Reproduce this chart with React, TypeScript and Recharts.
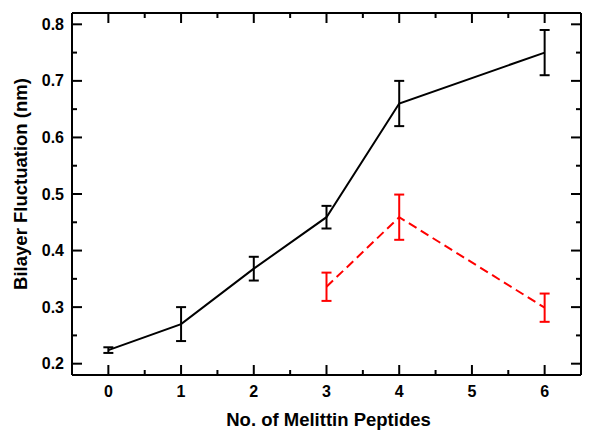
import React from 'react';
import { LineChart, Line, XAxis, YAxis, ErrorBar, Label } from 'recharts';

const blackX = [0, 1, 2, 3, 4, 6];
const blackY = [0.224, 0.27, 0.368, 0.459, 0.66, 0.75];
const blackErr = [0.005, 0.03, 0.021, 0.02, 0.04, 0.04];

const redX = [3, 4, 6];
const redY = [0.336, 0.459, 0.299];
const redErr = [0.025, 0.04, 0.025];

const xTicks = [0, 0.5, 1, 1.5, 2, 2.5, 3, 3.5, 4, 4.5, 5, 5.5, 6];
const yTicks = [0.2, 0.25, 0.3, 0.35, 0.4, 0.45, 0.5, 0.55, 0.6, 0.65, 0.7, 0.75, 0.8];

const blackData = blackX.map((x, i) => ({ x, y: blackY[i], err: blackErr[i] }));
const redData = redX.map((x, i) => ({ x, y: redY[i], err: redErr[i] }));

const FONT = '"Liberation Sans", Arial, Helvetica, sans-serif';
const MAJOR = 10;
const MINOR = 5;
const TICK_FS = 16;
const TITLE_FS = 18.5;

const isIntX = (v: number) => Math.abs(v - Math.round(v)) < 1e-6;
const isMajorY = (v: number) => Math.abs(v * 10 - Math.round(v * 10)) < 1e-6;

const BottomTick = (props: any) => {
  const { x, y, payload } = props;
  const major = isIntX(payload.value);
  return (
    <g>
      <line x1={x} y1={y} x2={x} y2={y - (major ? MAJOR : MINOR)} stroke="#000" strokeWidth={2} />
      {major && (
        <text x={x} y={y + 22} textAnchor="middle" fontFamily={FONT} fontWeight="bold" fontSize={TICK_FS} fill="#000">
          {String(payload.value)}
        </text>
      )}
    </g>
  );
};

const TopTick = (props: any) => {
  const { x, y, payload } = props;
  const major = isIntX(payload.value);
  return <line x1={x} y1={y} x2={x} y2={y + (major ? MAJOR : MINOR)} stroke="#000" strokeWidth={2} />;
};

const LeftTick = (props: any) => {
  const { x, y, payload } = props;
  const major = isMajorY(payload.value);
  return (
    <g>
      <line x1={x} y1={y} x2={x + (major ? MAJOR : MINOR)} y2={y} stroke="#000" strokeWidth={2} />
      {major && (
        <text x={x - 8} y={y + 5.5} textAnchor="end" fontFamily={FONT} fontWeight="bold" fontSize={TICK_FS} fill="#000">
          {payload.value.toFixed(1)}
        </text>
      )}
    </g>
  );
};

const RightTick = (props: any) => {
  const { x, y, payload } = props;
  const major = isMajorY(payload.value);
  return <line x1={x} y1={y} x2={x - (major ? MAJOR : MINOR)} y2={y} stroke="#000" strokeWidth={2} />;
};

const YTitle = (props: any) => {
  const vb = props.viewBox || { x: 0, y: 0, width: 0, height: 0 };
  const cx = 20;
  const cy = vb.y + vb.height / 2 - 10;
  return (
    <text
      x={cx}
      y={cy}
      transform={`rotate(-90, ${cx}, ${cy})`}
      textAnchor="middle"
      dominantBaseline="central"
      fontFamily={FONT}
      fontWeight="bold"
      fontSize={TITLE_FS}
      fill="#000"
    >
      Bilayer Fluctuation (nm)
    </text>
  );
};

const XTitle = (props: any) => {
  const vb = props.viewBox || { x: 0, y: 0, width: 0, height: 0 };
  const cx = vb.x + vb.width / 2 + 2;
  return (
    <text x={cx} y={426} textAnchor="middle" fontFamily={FONT} fontWeight="bold" fontSize={TITLE_FS} fill="#000">
      No. of Melittin Peptides
    </text>
  );
};

export default function App() {
  return (
    <div style={{ position: 'absolute', left: 0, top: 0, width: 590, height: 431, background: '#fff' }}>
      <LineChart width={590} height={431} margin={{ top: 12, right: 8, bottom: 0, left: 0 }}>
        <XAxis
          xAxisId={0}
          dataKey="x"
          type="number"
          domain={[-0.5, 6.5]}
          ticks={xTicks}
          interval={0}
          height={56}
          tickSize={0}
          tickMargin={0}
          tickLine={false}
          tick={<BottomTick />}
          axisLine={{ stroke: '#000', strokeWidth: 2 }}
        >
          <Label content={<XTitle />} />
        </XAxis>
        <XAxis
          xAxisId="top"
          orientation="top"
          dataKey="x"
          type="number"
          domain={[-0.5, 6.5]}
          ticks={xTicks}
          interval={0}
          height={1}
          tickSize={0}
          tickMargin={0}
          tickLine={false}
          tick={<TopTick />}
          axisLine={{ stroke: '#000', strokeWidth: 2 }}
        />
        <YAxis
          yAxisId={0}
          type="number"
          domain={[0.18, 0.82]}
          ticks={yTicks}
          interval={0}
          width={72}
          tickSize={0}
          tickMargin={0}
          tickLine={false}
          tick={<LeftTick />}
          axisLine={{ stroke: '#000', strokeWidth: 2 }}
        >
          <Label content={<YTitle />} />
        </YAxis>
        <YAxis
          yAxisId="right"
          orientation="right"
          type="number"
          domain={[0.18, 0.82]}
          ticks={yTicks}
          interval={0}
          width={1}
          tickSize={0}
          tickMargin={0}
          tickLine={false}
          tick={<RightTick />}
          axisLine={{ stroke: '#000', strokeWidth: 2 }}
        />
        <Line
          data={blackData}
          xAxisId="top"
          yAxisId="right"
          dataKey="y"
          type="linear"
          stroke="none"
          dot={false}
          activeDot={false}
          legendType="none"
          isAnimationActive={false}
        />
        <Line
          data={blackData}
          dataKey="y"
          type="linear"
          stroke="#000"
          strokeWidth={2}
          dot={false}
          activeDot={false}
          isAnimationActive={false}
        >
          <ErrorBar dataKey="err" direction="y" width={5} stroke="#000" strokeWidth={2} isAnimationActive={false} />
        </Line>
        <Line
          data={redData}
          dataKey="y"
          type="linear"
          stroke="#ff0000"
          strokeWidth={2}
          strokeDasharray="9 5"
          dot={false}
          activeDot={false}
          isAnimationActive={false}
        >
          <ErrorBar dataKey="err" direction="y" width={5} stroke="#ff0000" strokeWidth={2} isAnimationActive={false} />
        </Line>
      </LineChart>
    </div>
  );
}
